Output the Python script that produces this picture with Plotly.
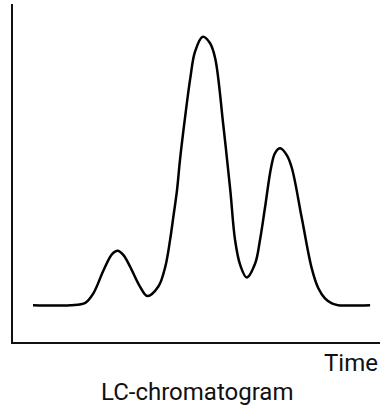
import plotly.graph_objects as go

# Chromatogram trace (time in arbitrary units, signal in %)
time = [0.545, 1.56, 1.97, 2.19, 2.47, 2.70, 2.85, 3.01, 3.19, 3.46, 3.66, 3.96,
        4.15, 4.28, 4.37, 4.47, 4.55, 4.69, 4.83, 4.96, 5.17, 5.37, 5.51, 5.73,
        5.92, 6.05, 6.19, 6.37, 6.60, 6.73, 6.87, 7.03, 7.14, 7.28, 7.46, 7.60,
        7.87, 8.14, 8.32, 8.50, 8.69, 8.86, 9.73]
signal = [10.9, 10.9, 11.6, 14.4, 21.3, 26.0, 27.0, 25.7, 22.3, 16.4, 13.6, 16.4,
          22.3, 30.2, 37.1, 45.0, 53.9, 66.6, 78.0, 85.9, 90.3, 88.4, 83.9, 64.2,
          45.0, 30.2, 22.8, 19.1, 23.3, 30.2, 40.0, 51.5, 55.9, 57.3, 55.3, 51.4,
          36.6, 21.8, 15.9, 12.9, 11.4, 10.9, 10.9]

x_label = "Time"
title_text = "LC-chromatogram"

fig = go.Figure()
fig.add_trace(go.Scatter(
    x=time, y=signal, mode="lines",
    line=dict(color="#000000", width=2.5, shape="spline", smoothing=1.0),
    hoverinfo="skip", showlegend=False,
))

fig.update_layout(
    width=381, height=408,
    margin=dict(l=13, r=1, t=4, b=66),
    paper_bgcolor="white", plot_bgcolor="white",
    font=dict(family="Roboto, Inter, sans-serif", color="#111111"),
    xaxis=dict(range=[0, 10], showline=True, linecolor="#111111", linewidth=2,
               showgrid=False, zeroline=False, showticklabels=False, ticks=""),
    yaxis=dict(range=[0, 100], showline=True, linecolor="#111111", linewidth=2,
               showgrid=False, zeroline=False, showticklabels=False, ticks=""),
    annotations=[
        dict(text=x_label, xref="paper", yref="paper", x=1, y=-0.062,
             xanchor="right", yanchor="middle", showarrow=False,
             font=dict(size=24, color="#111111")),
        dict(text=title_text, xref="paper", yref="paper", x=0.5, y=-0.148,
             xanchor="center", yanchor="middle", showarrow=False,
             font=dict(size=24, color="#111111")),
    ],
)

fig.write_html("out.html")
